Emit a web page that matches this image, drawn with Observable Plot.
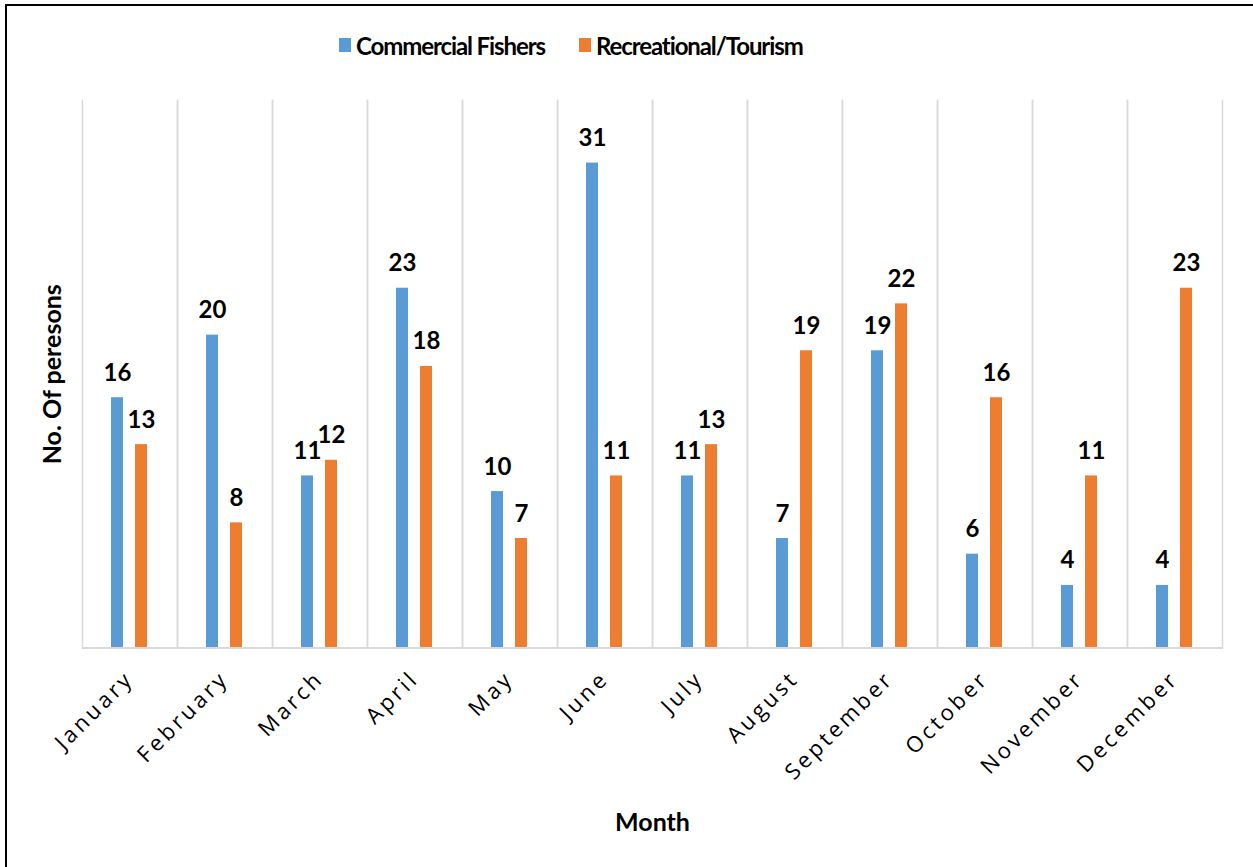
<!DOCTYPE html>
<html>
<head>
<meta charset="utf-8">
<script src="https://cdn.jsdelivr.net/npm/d3@7"></script>
<script src="https://cdn.jsdelivr.net/npm/@observablehq/plot@0.6"></script>
<style>
  html, body { margin: 0; padding: 0; overflow: hidden; background: #fff; width: 1253px; height: 867px; }
  #sheet {
    position: absolute; left: 5px; top: 4px; width: 1248px; height: 863px;
    border-top: 2px solid #000; border-left: 2px solid #000; overflow: hidden;
  }
  #legend { position: relative; height: 78px; font: bold 24px Lato, sans-serif; letter-spacing: -1.1px; color: #000; }
  #legend .item { position: absolute; top: 0; height: 78px; display: flex; align-items: center; }
  #legend .swatch { width: 12px; height: 14px; margin-right: 5px; }
  #chart svg text { font-family: Lato, sans-serif; }
  #chart g[aria-label="fx-axis tick label"] text { font-family: "Open Sans", sans-serif; letter-spacing: 3.3px; }
  #chart g[aria-label="fx-axis label"] text,
  #chart g[aria-label="y-axis label"] text { font-weight: bold; font-size: 25px; }
</style>
</head>
<body>
<div id="sheet">
  <div id="legend"></div>
  <div id="chart"></div>
</div>
<script>
// Monthly counts of people, by user group
const months = ["January", "February", "March", "April", "May", "June",
  "July", "August", "September", "October", "November", "December"];
const seriesNames = ["Commercial Fishers", "Recreational/Tourism"];
const commercial = [16, 20, 11, 23, 10, 31, 11, 7, 19, 6, 4, 4];
const recreational = [13, 8, 12, 18, 7, 11, 13, 19, 22, 16, 11, 23];
const colors = ["#5B9BD5", "#ED7D31"];

const table = months.flatMap((m, i) => [
  {month: m, series: seriesNames[0], value: commercial[i]},
  {month: m, series: seriesNames[1], value: recreational[i]}
]);

// Legend row above the plot
const legend = document.getElementById("legend");
const legendLeft = [332, 572];
seriesNames.forEach((name, i) => {
  const item = document.createElement("div");
  item.className = "item";
  item.style.left = legendLeft[i] + "px";
  const sw = document.createElement("span");
  sw.className = "swatch";
  sw.style.background = colors[i];
  const label = document.createElement("span");
  label.textContent = name;
  item.append(sw, label);
  legend.append(item);
});

const chart = Plot.plot({
  width: 1246,
  height: 783,
  marginLeft: 70,
  marginRight: 27,
  marginTop: 16,
  marginBottom: 219.5,
  fx: {domain: months, padding: 0},
  x: {domain: seriesNames, paddingInner: 0.48, paddingOuter: 1.155, axis: null},
  y: {domain: [0, 35]},
  color: {domain: seriesNames, range: colors},
  marks: [
    Plot.frame({anchor: "left", stroke: "#d9d9d9", strokeWidth: 1.5}),
    Plot.frame({anchor: "right", stroke: "#d9d9d9", strokeWidth: 1.5}),
    Plot.barY(table, {fx: "month", x: "series", y: "value", fill: "series"}),
    Plot.ruleY([0], {stroke: "#d9d9d9", strokeWidth: 2}),
    Plot.text(table, {
      fx: "month", x: "series", y: "value", text: "value",
      lineAnchor: "bottom", dy: -17, fontSize: 24, fontWeight: "bold", fill: "#000"
    }),
    Plot.axisFx({
      anchor: "bottom", tickSize: 0, tickPadding: 27, tickRotate: -45,
      fontSize: 22, label: "Month", labelAnchor: "center", labelOffset: 183
    }),
    Plot.axisY({
      ticks: [], tickSize: 0, label: "No. Of peresons",
      labelAnchor: "center", labelOffset: 39, labelArrow: "none"
    })
  ]
});
document.getElementById("chart").append(chart);
</script>
</body>
</html>
